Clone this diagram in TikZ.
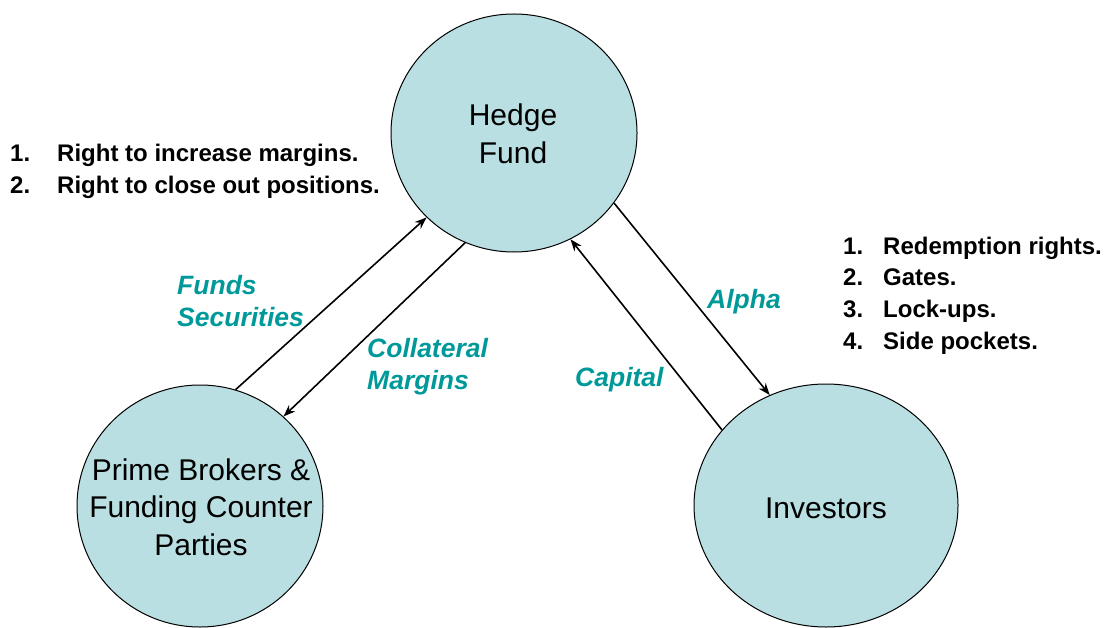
\documentclass[tikz,border=0pt]{standalone}
\usepackage{fontspec}
\setmainfont{Liberation Sans}
\usetikzlibrary{shapes.geometric,arrows.meta}
\definecolor{bubble}{RGB}{185,223,226}
\definecolor{teal2}{RGB}{0,153,153}
\begin{document}
\begin{tikzpicture}[x=1pt,y=-1pt,
  bubble/.style={ellipse,draw=black,line width=1pt,fill=bubble,inner sep=0pt},
  btext/.style={align=center,font=\fontsize{30}{37.5}\selectfont,inner sep=0pt},
  flow/.style={draw=black,line width=1.6pt,-{Stealth[length=12pt,width=9pt]}},
  flab/.style={text=teal2,font=\fontsize{26.5}{32}\selectfont\bfseries\itshape,align=left,anchor=west,inner sep=0pt},
  list/.style={font=\fontsize{24}{31.7}\selectfont\bfseries,align=left,anchor=west,inner sep=0pt}]
\useasboundingbox (0,0) rectangle (1107,628);
% circles
\node[bubble,minimum width=246pt,minimum height=238pt] (hf) at (514,133) {};
\node[bubble,minimum width=246pt,minimum height=242pt] (pb) at (200,506) {};
\node[bubble,minimum width=264pt,minimum height=243pt] (inv) at (826,505.5) {};
\node[btext] (hft) at (513,134) {Hedge\\Fund};
\node[btext] (pbt) at (201,507) {Prime Brokers \&\\Funding Counter\\Parties};
\node[btext] (invt) at (826,508) {Investors};
% connectors
\draw[flow] (pb.73) -- (hf.224);
\draw[flow] (hf.246) -- (pb.47);
\draw[flow] (hf.325) -- (inv.117);
\draw[flow] (inv.144.5) -- (hf.298);
% connector labels
\node[flab] (l1) at (177,301) {Funds\\Securities};
\node[flab] (l2) at (367,367) {Collateral\\Margins};
\node[flab] (l3) at (707,302) {Alpha};
\node[flab] (l4) at (575,380) {Capital};
% lists
\node[list] (left) at (10,171) {\makebox[47pt][l]{1.}Right to increase margins.\\\makebox[47pt][l]{2.}Right to close out positions.};
\node[list] (right) at (843,295.5) {\makebox[40pt][l]{1.}Redemption rights.\\\makebox[40pt][l]{2.}Gates.\\\makebox[40pt][l]{3.}Lock-ups.\\\makebox[40pt][l]{4.}Side pockets.};
\end{tikzpicture}
\end{document}
